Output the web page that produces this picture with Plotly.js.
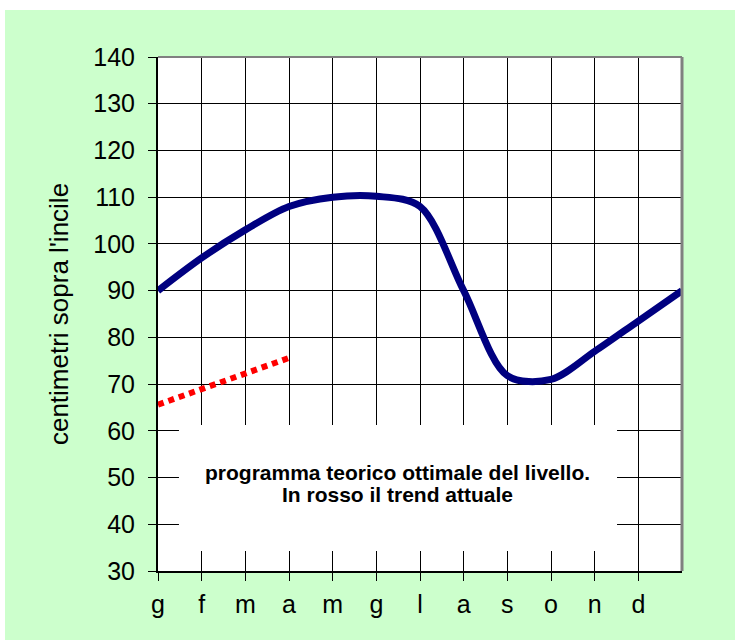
<!DOCTYPE html>
<html>
<head>
<meta charset="utf-8">
<script src="https://cdn.plot.ly/plotly-3.0.1.min.js"></script>
<style>
html,body{margin:0;padding:0;background:#ffffff;width:735px;height:640px;overflow:hidden;}
#chart{position:absolute;left:5px;top:10px;width:730px;height:630px;}
</style>
</head>
<body>
<div id="chart"></div>
<script>
// Month tick labels (g f m a m g l a s o n d)
const months = ["g","f","m","a","m","g","l","a","s","o","n","d"];
// Theoretical optimal level programme (13 points: Jan..Dec + closing Jan)
const optimalLevel = [90, 97, 103, 108, 110, 110.2, 108, 90, 71.8, 71, 77, 83.5, 90];
// Current trend (red dotted)
const currentTrend = [65.6, 69, 72.4, 75.6];
// Text of the note inside the plot
const noteLines = ["programma teorico ottimale del livello.", "In rosso il trend attuale"];

const xOpt = optimalLevel.map((_, i) => i);
const xTrend = currentTrend.map((_, i) => i);

const FONT = "Liberation Sans, Arial, sans-serif";

const traces = [
  {
    x: xOpt, y: optimalLevel, type: "scatter", mode: "lines",
    line: {color: "#000080", width: 7, shape: "spline", smoothing: 0.9},
    hoverinfo: "skip"
  },
  {
    x: xTrend, y: currentTrend, type: "scatter", mode: "lines",
    line: {color: "#ff0000", width: 6, dash: "6px,5px"},
    hoverinfo: "skip"
  }
];

const layout = {
  width: 730, height: 630,
  margin: {l: 153, r: 53, t: 47, b: 69, pad: 0},
  paper_bgcolor: "#CCFFCC",
  plot_bgcolor: "#ffffff",
  showlegend: false,
  font: {family: FONT, color: "#000000"},
  xaxis: {
    range: [0, 12],
    tickvals: months.map((_, i) => i),
    ticktext: months,
    showgrid: true, gridcolor: "#000000", gridwidth: 1,
    zeroline: false,
    showline: true, linecolor: "#000000", linewidth: 2,
    ticks: "outside", ticklen: 8, tickcolor: "#000000", tickwidth: 1,
    ticklabelstandoff: 2,
    tickfont: {family: FONT, size: 25, color: "#000000"},
    fixedrange: true
  },
  yaxis: {
    range: [30, 140],
    dtick: 10, tick0: 30,
    showgrid: true, gridcolor: "#000000", gridwidth: 1,
    zeroline: false,
    showline: true, linecolor: "#000000", linewidth: 2,
    ticks: "outside", ticklen: 8, tickcolor: "#000000", tickwidth: 1,
    ticklabelstandoff: 8,
    tickfont: {family: FONT, size: 25, color: "#000000"},
    title: {text: "centimetri sopra l'incile", font: {family: FONT, size: 26, color: "#000000"}, standoff: 17},
    fixedrange: true
  },
  shapes: [
    {type: "rect", xref: "x domain", yref: "y domain", x0: 0.04, x1: 0.876, y0: 0.039, y1: 0.284,
     fillcolor: "#ffffff", line: {width: 0}, layer: "above"},
    {type: "line", xref: "x domain", yref: "y domain", x0: 0, x1: 1, y0: 1, y1: 1,
     line: {color: "#808080", width: 2}},
    {type: "line", xref: "x domain", yref: "y domain", x0: 1, x1: 1, y0: 0, y1: 1,
     line: {color: "#808080", width: 3}}
  ],
  annotations: [
    {xref: "x domain", yref: "y domain", x: 0.458, y: 0.165, showarrow: false,
     text: "<b>" + noteLines[0] + "</b>",
     font: {family: FONT, size: 21, color: "#000000"}, align: "center"},
    {xref: "x domain", yref: "y domain", x: 0.458, y: 0.122, showarrow: false,
     text: "<b>" + noteLines[1] + "</b>",
     font: {family: FONT, size: 21, color: "#000000"}, align: "center"}
  ]
};

Plotly.newPlot("chart", traces, layout, {displayModeBar: false, staticPlot: true});
</script>
</body>
</html>
